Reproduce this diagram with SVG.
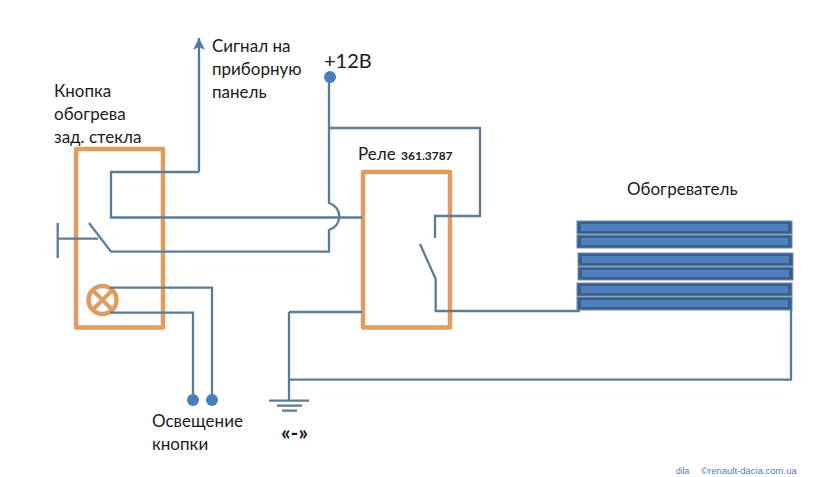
<svg xmlns="http://www.w3.org/2000/svg" width="819" height="477" viewBox="0 0 819 477">
<style>
text{font-family:"Lato","Open Sans","Liberation Sans",sans-serif;fill:#1a1a1a}
.t{font-size:17px}
.w{fill:none;stroke:#5b7c96;stroke-width:2.300;stroke-linejoin:miter}
.box{fill:none;stroke:#e09d62;stroke-width:4.500;stroke-linejoin:round}
.dot{fill:#4a7ebb}
.hd{fill:#3a5f8f;stroke:#6f8ba8;stroke-width:1}
.hi{fill:#4f81bd}
.f{fill:#5a78b0;font-family:"Liberation Sans",sans-serif}
</style>
<defs>
<marker id="arr" markerUnits="userSpaceOnUse" markerWidth="13" markerHeight="13" refX="12" refY="6.500" orient="auto"><path d="M0,0.500L12,6.500L0,12.500L3,6.500Z" fill="#4f7ba3"/></marker>
<g id="bar"><rect class="hd" x="0" y="0" width="215" height="13"/><rect class="hi" x="4" y="3" width="207" height="7"/></g>
</defs>
<rect width="819" height="477" fill="#fff"/>
<g id="button-node">
<rect class="box" x="76" y="149" width="87" height="178.500"/>
<g id="lamp"><circle cx="102.500" cy="300" r="14" fill="none" stroke="#e09d62" stroke-width="4.500"/><path d="M92.500,290L112.500,310M112.500,290L92.500,310" stroke="#e09d62" stroke-width="4" fill="none"/></g>
<text class="t" x="54" y="97">Кнопка</text>
<text class="t" x="54" y="120">обогрева</text>
<text class="t" x="54" y="143">зад. стекла</text>
</g>
<g id="relay-node">
<rect class="box" x="363" y="172" width="87" height="155.500"/>
<text class="t" x="358" y="160">Реле</text>
<text x="401" y="160" font-size="12" font-weight="700">361.3787</text>
</g>
<g id="heater-node">
<use href="#bar" x="577" y="221"/><use href="#bar" x="577" y="235"/>
<use href="#bar" x="578" y="253"/><use href="#bar" x="578" y="267"/>
<use href="#bar" x="577" y="283"/><use href="#bar" x="577" y="297"/>
<text class="t" x="627" y="195">Обогреватель</text>
</g>
<g id="connectors">
<path class="w" marker-end="url(#arr)" style="stroke:#4f7ba3" d="M199,172V38"/>
<path class="w" d="M199,172H111V217.500H362"/>
<path class="w" d="M57.700,223V258M57.700,238.700H98"/>
<path class="w" d="M89,223L111,251.700H329V230A14,14 0 0 0 329,203V77"/>
<path class="w" d="M330,128H480V216H435V238"/>
<path class="w" d="M420,244L435.700,279V311H580"/>
<path class="w" d="M289,312H362M289,312V400.700M289,379.700H791V309"/>
<path class="w" d="M269,400.700H309M277,405.700H302M282,410.700H297"/>
<path class="w" d="M110,287.700H212V400M110,312.700H193V400"/>
</g>
<g id="plus12"><circle class="dot" cx="330" cy="77" r="6"/><text x="324" y="68" font-size="20">+12В</text></g>
<g id="signal-label"><text class="t" x="212" y="52">Сигнал на</text><text class="t" x="212" y="75">приборную</text><text class="t" x="212" y="98">панель</text></g>
<g id="light-terminals"><circle class="dot" cx="193" cy="400" r="6"/><circle class="dot" cx="212" cy="400" r="6"/>
<text class="t" x="152" y="427">Освещение</text><text class="t" x="152" y="450">кнопки</text></g>
<g id="minus-label"><text x="281" y="440" font-size="21" font-weight="700">«-»</text></g>
<text class="f" x="676" y="474" font-size="8.500">dila</text>
<text class="f" x="701" y="474" font-size="9.500">©renault-dacia.com.ua</text>
</svg>
